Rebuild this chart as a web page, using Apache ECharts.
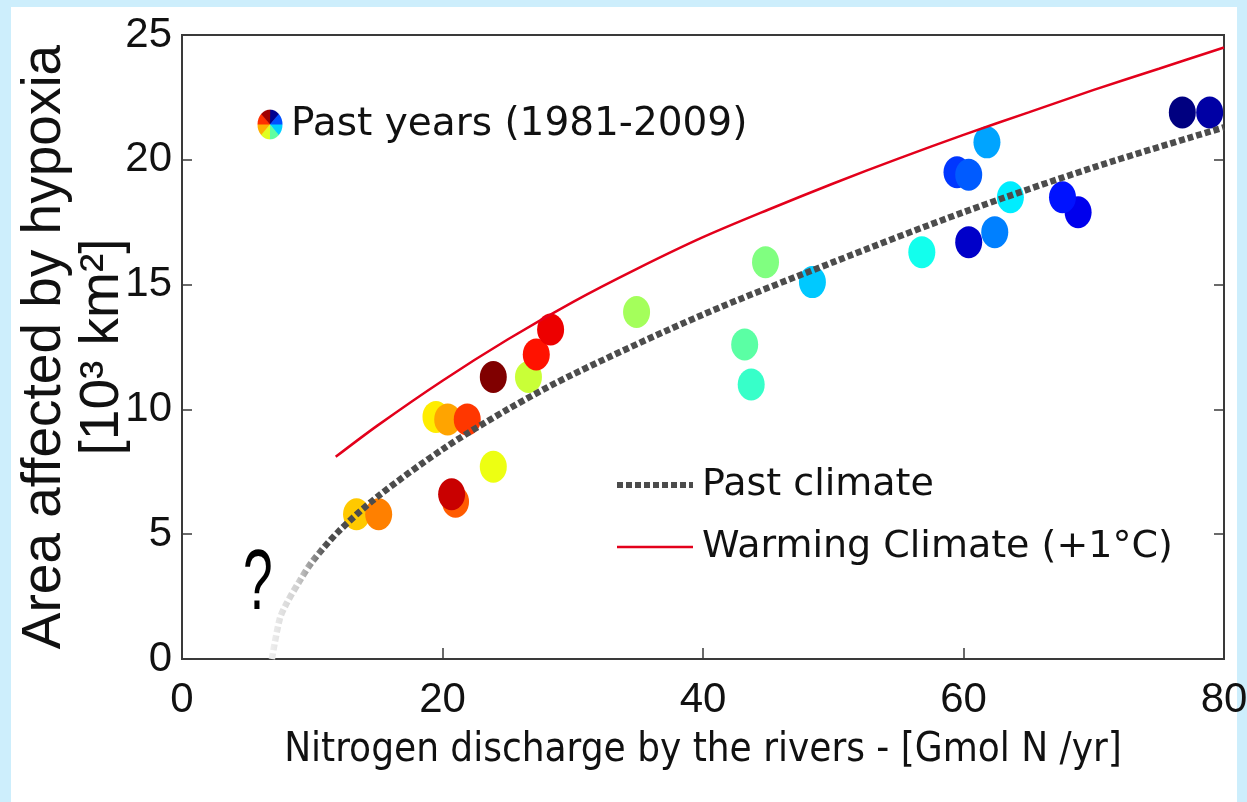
<!DOCTYPE html>
<html>
<head>
<meta charset="utf-8">
<script src="https://cdn.jsdelivr.net/npm/echarts@6/dist/echarts.min.js"></script>
<style>
html, body { margin: 0; padding: 0; background: #cdeefc; }
#frame { position: absolute; left: 11px; top: 7px; width: 1226px; height: 795px; background: #fff; }
#chart-hypoxia { position: absolute; left: 0; top: 0; width: 1247px; height: 802px; }
</style>
</head>
<body>
<div id="frame"></div>
<div id="chart-hypoxia"></div>
<script>
// observed years: nitrogen discharge [Gmol N/yr] vs hypoxic area [10^3 km2]
var nitrogen = [76.8, 78.9, 60.4, 68.8, 67.6, 59.5, 60.4, 62.4, 61.8, 48.4, 63.6, 56.8, 43.7, 43.2,
  44.8, 34.9, 26.6, 23.9, 19.5, 13.4, 20.4, 15.1, 21.0, 21.9, 27.2, 28.3, 20.7, 23.9]
var area = [21.9, 21.9, 16.7, 17.9, 18.5, 19.5, 19.4, 17.1, 20.7, 15.1, 18.5, 16.3, 11.0, 12.6,
  15.9, 13.9, 11.3, 7.7, 9.7, 5.8, 9.6, 5.8, 6.3, 9.6, 12.2, 13.2, 6.6, 11.3]
var years = [1981, 1982, 1983, 1984, 1985, 1986, 1987, 1988, 1989, 1990, 1991, 1992, 1993, 1994,
  1995, 1996, 1997, 1998, 1999, 2000, 2001, 2002, 2003, 2004, 2005, 2006, 2007, 2009]

// fitted curves
var pastX = [6.9, 7.5, 8, 9, 10, 12, 15, 20, 25, 30, 40, 50, 60, 70, 80]
var pastY = [0, 1.6, 2.2, 3.1, 3.9, 5.1, 6.5, 8.4, 10.0, 11.4, 13.8, 15.9, 17.9, 19.7, 21.3]
var warmX = [11.8, 15, 20, 25, 30, 35, 40, 45, 50, 55, 60, 65, 70, 75, 80]
var warmY = [8.1, 9.35, 11.15, 12.8, 14.3, 15.65, 16.9, 18.0, 19.05, 20.05, 21.0, 21.9, 22.8, 23.65, 24.5]

var jet = ['#000080', '#0000ff', '#0080ff', '#00ffff', '#80ff80', '#ffff00', '#ff8000', '#ff0000', '#800000']

function zip (a, b, c) {
  return a.map(function (v, i) { return c ? [v, b[i], c[i]] : [v, b[i]] })
}

// little multicoloured pie for the "past years" legend
function pieIcon () {
  var c = document.createElement('canvas')
  c.width = 52
  c.height = 62
  var ctx = c.getContext('2d')
  var cols = ['#000090', '#0050ff', '#00d0ff', '#60ffa0', '#e0ff20', '#ffb000', '#ff3000', '#a00000']
  ctx.translate(26, 31)
  ctx.scale(1, 31 / 26)
  for (var i = 0; i < 8; i++) {
    var a0 = -Math.PI / 2 + i * Math.PI / 4
    ctx.beginPath()
    ctx.moveTo(0, 0)
    ctx.arc(0, 0, 25, a0, a0 + Math.PI / 4 + 0.02)
    ctx.closePath()
    ctx.fillStyle = cols[i]
    ctx.fill()
  }
  return 'image://' + c.toDataURL()
}

var tickFont = '"Liberation Sans", Arial, sans-serif'
var noDot = { color: 'rgba(0,0,0,0)', borderWidth: 0, opacity: 0 }
var myChart = echarts.init(document.getElementById('chart-hypoxia'))
var option = {
  backgroundColor: 'transparent',
  animation: false,
  grid: {
    left: 182, right: 23, top: 35, bottom: 143,
    outerBoundsMode: 'none', containLabel: false,
    show: true, borderColor: '#3a3a3a', borderWidth: 2
  },
  legend: [
    {
      data: [{ name: 'Past years (1981-2009)', icon: pieIcon() }],
      left: 252, top: 100,
      itemWidth: 26, itemHeight: 31, itemGap: 10,
      selectedMode: false,
      textStyle: { fontFamily: 'DejaVu Sans', fontSize: 39, color: '#111', padding: [0, 0, 0, 3] }
    },
    {
      data: [
        { name: 'Past climate', itemStyle: noDot, lineStyle: { color: '#4c4c4c', width: 6, type: [6, 3], cap: 'butt' } },
        { name: 'Warming Climate (+1°C)', itemStyle: noDot, lineStyle: { color: '#e3001b', width: 2.5 } }
      ],
      orient: 'vertical', left: 609, top: 458,
      itemWidth: 76, itemHeight: 8, itemGap: 18,
      selectedMode: false,
      textStyle: { fontFamily: 'DejaVu Sans', fontSize: 38, lineHeight: 44, color: '#111', padding: [0, 0, 0, 4] }
    }
  ],
  visualMap: {
    show: false, type: 'continuous', seriesIndex: 0, dimension: 2,
    min: 1981, max: 2009, inRange: { color: jet }
  },
  xAxis: [{
    type: 'value', min: 0, max: 80, interval: 20,
    name: 'Nitrogen discharge by the rivers - [Gmol N /yr]',
    nameLocation: 'middle', nameGap: 72, nameMoveOverlap: false,
    nameTextStyle: { fontFamily: 'DejaVu Sans Condensed', fontSize: 40, color: '#111' },
    axisLine: { lineStyle: { color: '#3a3a3a', width: 2 } },
    axisTick: { inside: true, length: 11, lineStyle: { color: '#3a3a3a', width: 1.5 } },
    axisLabel: { margin: 20, fontFamily: tickFont, fontSize: 42, color: '#111' },
    splitLine: { show: false }
  }],
  yAxis: [{
    type: 'value', min: 0, max: 25, interval: 5,
    name: 'Area affected by hypoxia\n[10³ km²]',
    nameLocation: 'middle', nameRotate: 90, nameGap: 50, nameMoveOverlap: false,
    nameTextStyle: { fontFamily: 'Liberation Sans', fontSize: 55, lineHeight: 58, color: '#111' },
    axisLine: { lineStyle: { color: '#3a3a3a', width: 2 } },
    axisTick: { inside: true, length: 10, lineStyle: { color: '#3a3a3a', width: 1.5 } },
    axisLabel: { margin: 10, fontFamily: tickFont, fontSize: 42, color: '#111' },
    splitLine: { show: false }
  }, {
    type: 'value', min: 0, max: 25, interval: 5, position: 'right',
    axisLine: { show: true, lineStyle: { color: '#3a3a3a', width: 2 } },
    axisTick: { inside: true, length: 10, lineStyle: { color: '#3a3a3a', width: 1.5 } },
    axisLabel: { show: false },
    splitLine: { show: false }
  }],
  graphic: [{
    type: 'text', left: 243, top: 542, scaleX: 0.62,
    style: { text: '?', font: '86px ' + tickFont, fill: '#000' }
  }],
  series: [
    {
      name: 'Past years (1981-2009)',
      type: 'scatter',
      data: zip(nitrogen, area, years),
      symbolSize: [27, 32],
      itemStyle: { opacity: 1 },
      z: 2
    },
    {
      name: 'Past climate',
      type: 'line',
      data: zip(pastX, pastY),
      smooth: 0.3,
      symbol: 'none',
      z: 4,
      lineStyle: {
        width: 6.5,
        type: [6, 3],
        cap: 'butt',
        color: new echarts.graphic.LinearGradient(0, 0, 1, 0, [
          { offset: 0, color: '#f0f0f0' },
          { offset: 0.03, color: '#cfcfcf' },
          { offset: 0.045, color: '#959595' },
          { offset: 0.06, color: '#4c4c4c' },
          { offset: 1, color: '#4c4c4c' }
        ])
      }
    },
    {
      name: 'Warming Climate (+1°C)',
      type: 'line',
      data: zip(warmX, warmY),
      smooth: 0.3,
      symbol: 'none',
      z: 4,
      lineStyle: { width: 2.5, color: '#e3001b' }
    }
  ]
}
myChart.setOption(option)
</script>
</body>
</html>
